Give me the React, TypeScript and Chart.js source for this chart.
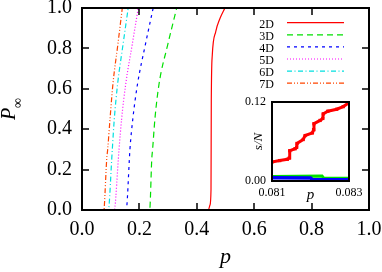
import React, { useEffect, useRef } from "react";
import { Chart, registerables } from "chart.js";

Chart.register(...registerables);

const SERIF = "'Liberation Serif', 'DejaVu Serif', serif";

// ---- main chart data ----
const mainXTicks = [0, 0.2, 0.4, 0.6, 0.8, 1.0];
const mainYTicks = [0, 0.2, 0.4, 0.6, 0.8, 1.0];

const p2D = [0, 0.44, 0.446, 0.4495, 0.4505, 0.454, 0.466, 0.481, 0.498];
const P2D = [0, 0, 0.025, 0.1, 0.545, 0.767, 0.883, 0.949, 1.0];

const Plevels = [0, 0, 0.016, 0.25, 0.3, 0.45, 0.62, 0.82, 1.0];
const p3D = [0, 0.235, 0.237, 0.243, 0.246, 0.254, 0.268, 0.299, 0.33];
const p4D = [0, 0.153, 0.156, 0.165, 0.167, 0.177, 0.193, 0.221, 0.248];
const p5D = [0, 0.113, 0.115, 0.1265, 0.129, 0.138, 0.152, 0.175, 0.196];
const p6D = [0, 0.0923, 0.094, 0.1035, 0.1056, 0.1125, 0.1238, 0.143, 0.161];
const p7D = [0, 0.0767, 0.0777, 0.086, 0.0895, 0.0976, 0.1075, 0.125, 0.1404];

const seriesLabels = ["2D", "3D", "4D", "5D", "6D", "7D"];

// ---- inset data ----
const insetXTicks = [0.081, 0.083];
const insetYTicks = [0, 0.12];
const insetRedP = [0.081, 0.0812, 0.0814, 0.08145, 0.08146, 0.0816, 0.08164, 0.08165, 0.08181, 0.08186, 0.08205, 0.08208, 0.08209, 0.08225, 0.08232, 0.08233, 0.08245, 0.08268, 0.08285, 0.08298];
const insetRedS = [0.029, 0.031, 0.033, 0.035, 0.046, 0.049, 0.051, 0.057, 0.063, 0.069, 0.073, 0.078, 0.087, 0.092, 0.095, 0.102, 0.106, 0.109, 0.113, 0.118];
const insetGreenP = [0.081, 0.0823, 0.08235, 0.083];
const insetGreenS = [0.007, 0.0075, 0.004, 0.004];
const insetBlueP = [0.081, 0.082, 0.08205, 0.083];
const insetBlueS = [0.0048, 0.0045, 0.002, 0.002];

const pts = (xs: number[], ys: number[]) => xs.map((x, i) => ({ x, y: ys[i] }));

const mainDecor = {
  id: "mainDecor",
  afterDatasetsDraw(chart: any) {
    const { ctx, chartArea: a, scales } = chart;
    const x = scales.x;
    const y = scales.y;
    ctx.save();
    ctx.strokeStyle = "#000";
    ctx.lineWidth = 1.5;
    ctx.setLineDash([]);
    ctx.beginPath();
    mainXTicks.slice(1, -1).forEach((v) => {
      const px = Math.round(x.getPixelForValue(v));
      ctx.moveTo(px, a.bottom);
      ctx.lineTo(px, a.bottom - 7);
      ctx.moveTo(px, a.top);
      ctx.lineTo(px, a.top + 7);
    });
    mainYTicks.slice(1, -1).forEach((v) => {
      const py = Math.round(y.getPixelForValue(v));
      ctx.moveTo(a.left, py);
      ctx.lineTo(a.left + 7, py);
      ctx.moveTo(a.right, py);
      ctx.lineTo(a.right - 7, py);
    });
    ctx.stroke();
    ctx.lineWidth = 2;
    ctx.strokeRect(a.left, a.top, a.right - a.left, a.bottom - a.top);

    // legend
    chart.data.datasets.forEach((ds: any, i: number) => {
      const ly = a.top + 14.7 + i * 12.1;
      ctx.save();
      ctx.setLineDash(ds.borderDash || []);
      ctx.strokeStyle = ds.borderColor;
      ctx.lineWidth = 1.2;
      ctx.beginPath();
      ctx.moveTo(a.right - 82, ly);
      ctx.lineTo(a.right - 25, ly);
      ctx.stroke();
      ctx.restore();
      ctx.fillStyle = "#000";
      ctx.font = `12px ${SERIF}`;
      ctx.textAlign = "right";
      ctx.textBaseline = "middle";
      ctx.fillText(ds.label, a.right - 95, ly + 2);
    });

    // axis titles
    ctx.fillStyle = "#000";
    ctx.save();
    ctx.translate(15, 114);
    ctx.rotate(-Math.PI / 2);
    ctx.textAlign = "center";
    ctx.textBaseline = "alphabetic";
    ctx.font = `italic 20px ${SERIF}`;
    ctx.fillText("P", 0, 0);
    ctx.font = `14px ${SERIF}`;
    ctx.textAlign = "left";
    ctx.fillText("\u221E", 6, 6.5);
    ctx.restore();

    ctx.font = `italic 22px ${SERIF}`;
    ctx.textAlign = "center";
    ctx.textBaseline = "alphabetic";
    ctx.fillText("p", (a.left + a.right) / 2, 263);
    ctx.restore();
  },
};

const insetDecor = {
  id: "insetDecor",
  beforeDatasetsDraw(chart: any) {
    const { ctx, chartArea: a } = chart;
    ctx.save();
    ctx.fillStyle = "#fff";
    ctx.fillRect(a.left, a.top, a.right - a.left, a.bottom - a.top);
    ctx.restore();
  },
  afterDatasetsDraw(chart: any) {
    const { ctx, chartArea: a } = chart;
    ctx.save();
    ctx.strokeStyle = "#000";
    ctx.lineWidth = 2;
    ctx.strokeRect(a.left, a.top, a.right - a.left, a.bottom - a.top);
    ctx.fillStyle = "#000";
    ctx.save();
    ctx.translate(a.left - 10, (a.top + a.bottom) / 2);
    ctx.rotate(-Math.PI / 2);
    ctx.font = `italic 13px ${SERIF}`;
    ctx.textAlign = "center";
    ctx.textBaseline = "alphabetic";
    ctx.fillText("s/N", 0, 0);
    ctx.restore();
    ctx.font = `italic 15px ${SERIF}`;
    ctx.textAlign = "center";
    ctx.textBaseline = "alphabetic";
    ctx.fillText("p", (a.left + a.right) / 2, a.bottom + 18);
    ctx.restore();
  },
};

export default function App() {
  const mainRef = useRef<HTMLCanvasElement>(null);
  const insetRef = useRef<HTMLCanvasElement>(null);

  useEffect(() => {
    const mainChart = new Chart(mainRef.current as HTMLCanvasElement, {
      type: "line",
      data: {
        datasets: [
          { label: seriesLabels[0], data: pts(p2D, P2D), borderColor: "#ff0000", borderDash: [] },
          { label: seriesLabels[1], data: pts(p3D, Plevels), borderColor: "#00e000", borderDash: [6, 4] },
          { label: seriesLabels[2], data: pts(p4D, Plevels), borderColor: "#0000ff", borderDash: [3, 4] },
          { label: seriesLabels[3], data: pts(p5D, Plevels), borderColor: "#ff00ff", borderDash: [1, 2] },
          { label: seriesLabels[4], data: pts(p6D, Plevels), borderColor: "#00e0e0", borderDash: [5, 2.5, 1, 2.5] },
          { label: seriesLabels[5], data: pts(p7D, Plevels), borderColor: "#ff4500", borderDash: [5, 2, 1, 2, 1, 2] },
        ] as any,
      },
      options: {
        animation: false,
        responsive: false,
        devicePixelRatio: 1,
        layout: { padding: { top: 8, right: 13, left: 0, bottom: 0 } },
        plugins: { legend: { display: false }, tooltip: { enabled: false } },
        elements: {
          point: { radius: 0 },
          line: { borderWidth: 1.2, cubicInterpolationMode: "monotone", fill: false },
        },
        scales: {
          x: {
            type: "linear",
            min: 0,
            max: 1,
            afterBuildTicks: (s: any) => {
              s.ticks = mainXTicks.map((v) => ({ value: v }));
            },
            afterFit: (s: any) => {
              s.height = 62;
              s.paddingLeft = 0;
              s.paddingRight = 0;
            },
            grid: { display: false, drawTicks: false },
            border: { display: false },
            ticks: {
              padding: 8,
              color: "#000",
              maxRotation: 0,
              autoSkip: false,
              font: { family: SERIF, size: 20 },
              callback: (v: any) => Number(v).toFixed(1),
            },
          },
          y: {
            type: "linear",
            min: 0,
            max: 1,
            afterBuildTicks: (s: any) => {
              s.ticks = mainYTicks.map((v) => ({ value: v }));
            },
            afterFit: (s: any) => {
              s.width = 82;
              s.paddingTop = 0;
              s.paddingBottom = 0;
            },
            grid: { display: false, drawTicks: false },
            border: { display: false },
            ticks: {
              padding: 10,
              color: "#000",
              autoSkip: false,
              font: { family: SERIF, size: 20 },
              callback: (v: any) => Number(v).toFixed(1),
            },
          },
        },
      } as any,
      plugins: [mainDecor],
    });

    const insetChart = new Chart(insetRef.current as HTMLCanvasElement, {
      type: "line",
      data: {
        datasets: [
          {
            label: "red",
            data: pts(insetRedP, insetRedS),
            borderColor: "#ff0000",
            backgroundColor: "#ff0000",
            borderWidth: 3,
            pointStyle: "rect",
            pointRadius: 2.3,
            pointBorderWidth: 0,
            order: 0,
          },
          {
            label: "blue",
            data: pts(insetBlueP, insetBlueS),
            borderColor: "#0000ff",
            borderWidth: 3.5,
            pointRadius: 0,
            order: 1,
          },
          {
            label: "green",
            data: pts(insetGreenP, insetGreenS),
            borderColor: "#00e000",
            borderWidth: 3,
            pointRadius: 0,
            order: 2,
          },
        ] as any,
      },
      options: {
        animation: false,
        responsive: false,
        devicePixelRatio: 1,
        layout: { padding: { top: 10, right: 22, left: 0, bottom: 0 } },
        plugins: { legend: { display: false }, tooltip: { enabled: false } },
        elements: { line: { tension: 0, fill: false } },
        scales: {
          x: {
            type: "linear",
            min: 0.081,
            max: 0.083,
            afterBuildTicks: (s: any) => {
              s.ticks = insetXTicks.map((v) => ({ value: v }));
            },
            afterFit: (s: any) => {
              s.height = 26;
              s.paddingLeft = 0;
              s.paddingRight = 0;
            },
            grid: { display: false, drawTicks: false },
            border: { display: false },
            ticks: {
              padding: 5,
              color: "#000",
              maxRotation: 0,
              autoSkip: false,
              font: { family: SERIF, size: 12 },
              callback: (v: any) => Number(v).toFixed(3),
            },
          },
          y: {
            type: "linear",
            min: 0,
            max: 0.12,
            afterBuildTicks: (s: any) => {
              s.ticks = insetYTicks.map((v) => ({ value: v }));
            },
            afterFit: (s: any) => {
              s.width = 46;
              s.paddingTop = 0;
              s.paddingBottom = 0;
            },
            grid: { display: false, drawTicks: false },
            border: { display: false },
            ticks: {
              padding: 6,
              color: "#000",
              autoSkip: false,
              font: { family: SERIF, size: 12 },
              callback: (v: any) => Number(v).toFixed(2),
            },
          },
        },
      } as any,
      plugins: [insetDecor],
    });

    return () => {
      mainChart.destroy();
      insetChart.destroy();
    };
  }, []);

  return (
    <div style={{ position: "absolute", left: 0, top: 0, width: 382, height: 272, background: "#fff" }}>
      <canvas
        ref={mainRef}
        width={382}
        height={272}
        style={{ position: "absolute", left: 0, top: 0, width: 382, height: 272, display: "block" }}
      />
      <canvas
        ref={insetRef}
        width={145}
        height={115}
        style={{ position: "absolute", left: 226, top: 92, width: 145, height: 115, display: "block" }}
      />
    </div>
  );
}
